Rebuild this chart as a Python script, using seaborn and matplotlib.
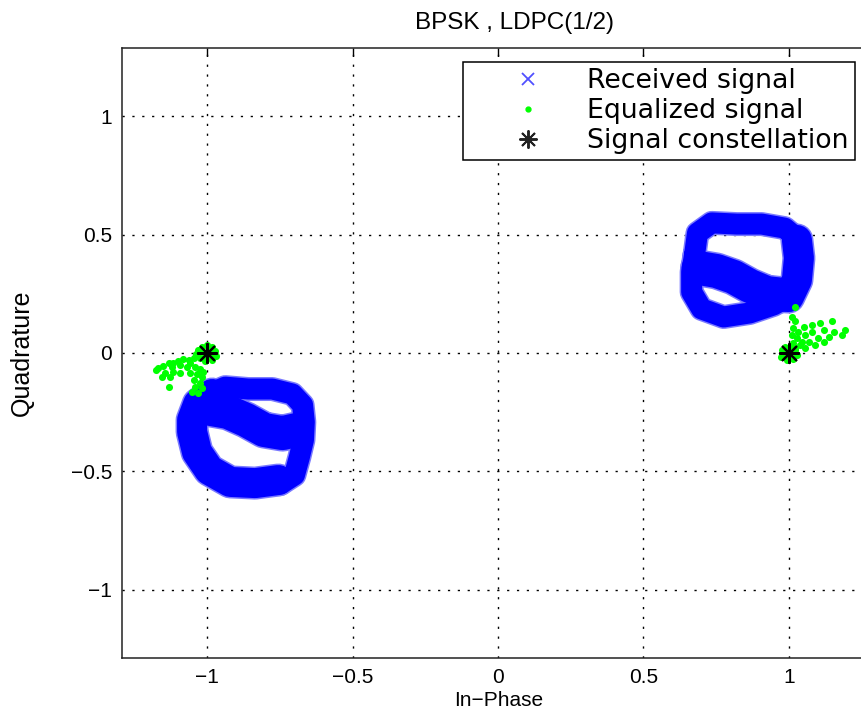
import numpy as np
import pandas as pd
import matplotlib
matplotlib.use("Agg")
import matplotlib.pyplot as plt
from matplotlib.lines import Line2D
import seaborn as sns

# received signal, read off the picture as stroke centre lines of the two ring clouds
# left cloud: ring, thick left/bottom part, band across the middle
left_ring_x = [-1.052, -1.038, -1.000, -0.938, -0.859, -0.776, -0.707, -0.672, -0.666,
               -0.669, -0.683, -0.700, -0.748, -0.835, -0.921, -0.990, -1.031]
left_ring_y = [-0.333, -0.241, -0.177, -0.144, -0.152, -0.152, -0.173, -0.219, -0.291,
               -0.367, -0.439, -0.515, -0.553, -0.553, -0.536, -0.494, -0.430]
left_thick_x = [-0.983, -1.031, -1.052, -1.052, -1.035, -0.993, -0.921, -0.835, -0.755]
left_thick_y = [-0.173, -0.215, -0.283, -0.333, -0.418, -0.494, -0.544, -0.549, -0.536]
left_band_x = [-1.007, -0.928, -0.866, -0.804, -0.741, -0.693]
left_band_y = [-0.232, -0.249, -0.283, -0.325, -0.338, -0.325]

# right cloud
right_ring_x = [0.676, 0.686, 0.735, 0.821, 0.907, 0.986, 1.035, 1.045, 1.038,
                1.010, 0.948, 0.866, 0.776, 0.700, 0.666, 0.666]
right_ring_y = [0.414, 0.506, 0.549, 0.544, 0.544, 0.527, 0.477, 0.401, 0.317,
                0.245, 0.203, 0.169, 0.152, 0.186, 0.257, 0.342]
right_thick_x = [1.028, 1.035, 1.028, 1.000]
right_thick_y = [0.477, 0.401, 0.308, 0.236]
right_band_x = [0.690, 0.752, 0.810, 0.866, 0.924, 0.983]
right_band_y = [0.359, 0.346, 0.321, 0.283, 0.253, 0.245]

# equalized signal
eq_left_x = [-1.030, -1.018, -1.001, -0.984, -0.972, -0.969, -0.984, -1.007, -1.026, -1.038,
             -1.013, -0.990, -1.001, -0.995, -1.047, -1.064, -1.082, -1.099, -1.116, -1.133,
             -1.151, -1.168, -1.176, -1.122, -1.093, -1.070, -1.145, -1.116, -1.156, -1.128,
             -1.095, -1.133, -1.059, -1.041, -1.024, -1.036, -1.018, -1.047, -1.026, -1.041,
             -1.018, -1.053, -1.030, -1.013, -1.059]
eq_left_y = [0.013, 0.027, 0.034, 0.027, 0.010, -0.013, -0.030, -0.032, -0.023, -0.004,
             0.006, -0.008, -0.015, 0.013, -0.023, -0.030, -0.027, -0.032, -0.041, -0.044,
             -0.055, -0.065, -0.072, -0.060, -0.051, -0.058, -0.083, -0.079, -0.100, -0.100,
             -0.083, -0.142, -0.044, -0.058, -0.069, -0.089, -0.100, -0.114, -0.125, -0.142,
             -0.149, -0.163, -0.170, -0.079, -0.086]
eq_right_x = [1.022, 1.010, 1.022, 1.016, 1.033, 1.010, 1.028, 1.016, 1.039, 1.022,
              1.056, 1.079, 1.108, 1.120, 1.148, 1.154, 1.194, 1.183, 1.137, 1.102,
              1.068, 1.091, 1.056, 1.120, 1.045, 1.079, 1.051, 0.976, 0.987, 1.005,
              1.022, 1.028, 1.016, 0.993, 0.974, 0.999, 0.982, 1.010]
eq_right_y = [0.196, 0.154, 0.133, 0.104, 0.090, 0.076, 0.062, 0.041, 0.034, 0.020,
              0.076, 0.090, 0.125, 0.097, 0.133, 0.090, 0.097, 0.076, 0.069, 0.062,
              0.048, 0.034, 0.020, 0.048, 0.048, 0.118, 0.111, 0.013, 0.027, 0.027,
              0.013, -0.008, -0.025, -0.029, -0.015, -0.001, -0.001, 0.006]

# ideal constellation
const_x = [-1, 1]
const_y = [0, 0]

ticks = [-1, -0.5, 0, 0.5, 1]
tick_labels = ["\u22121", "\u22120.5", "0", "0.5", "1"]


def path_df(xs, ys, name, close=False):
    if close:
        xs, ys = xs + xs[:1], ys + ys[:1]
    return pd.DataFrame({"x": xs, "y": ys, "path": name})


rings = pd.concat([path_df(left_ring_x, left_ring_y, "L", True),
                   path_df(right_ring_x, right_ring_y, "R", True)])
thick = pd.concat([path_df(left_thick_x, left_thick_y, "Lt"),
                   path_df(right_thick_x, right_thick_y, "Rt")])
bands = pd.concat([path_df(left_band_x, left_band_y, "Lb"),
                   path_df(right_band_x, right_band_y, "Rb")])
eq = pd.DataFrame({"x": eq_left_x + eq_right_x, "y": eq_left_y + eq_right_y})
const = pd.DataFrame({"x": const_x, "y": const_y})

sns.set_theme(style="white")
plt.rcParams["font.family"] = ["Liberation Sans", "DejaVu Sans"]
plt.rcParams["axes.edgecolor"] = "#222222"
plt.rcParams["text.color"] = "black"
plt.rcParams["axes.labelcolor"] = "black"

fig = plt.figure(figsize=(8.62, 7.22), dpi=100)
ax = fig.add_axes([122 / 862, 64 / 722, 754 / 862, 610 / 722])

px = 72 / 100  # points per pixel
line_kw = dict(sort=False, estimator=None, legend=False, ax=ax,
               solid_capstyle="round", solid_joinstyle="round")
strokes = [(rings, 21), (thick, 30), (bands, 34)]
for data, w in strokes:
    sns.lineplot(data=data, x="x", y="y", units="path", color="#7a7aff",
                 linewidth=(w + 3) * px, **line_kw)
for data, w in strokes:
    sns.lineplot(data=data, x="x", y="y", units="path", color="#0000ff",
                 linewidth=w * px, **line_kw)

sns.scatterplot(data=eq, x="x", y="y", color="#00ff00", s=26, linewidth=0,
                ax=ax, zorder=4)
sns.scatterplot(data=const, x="x", y="y", color="black", marker=(8, 2, 0), s=190,
                linewidth=1.6, ax=ax, zorder=5)

ax.set_xlim(-1.293, 1.3)
ax.set_ylim(-1.287, 1.287)
ax.set_xticks(ticks)
ax.set_xticklabels(tick_labels)
ax.set_yticks(ticks)
ax.set_yticklabels(tick_labels)
ax.tick_params(direction="in", length=6, width=1, top=True, right=True,
               labelsize=15, colors="black", pad=7)
ax.grid(True, color="black", linestyle=(0, (1.6, 5.5)), linewidth=1.0)
ax.set_axisbelow(True)
for sp in ax.spines.values():
    sp.set_linewidth(1.1)

ax.set_title("BPSK , LDPC(1/2)", fontsize=17.5, pad=14, x=(515 - 122) / 754)
ax.set_xlabel("In\u2212Phase", fontsize=15, labelpad=3)
ax.set_ylabel("Quadrature", fontsize=18)
ax.yaxis.set_label_coords(-0.117, 0.5)

handles = [
    Line2D([], [], linestyle="none", marker="x", color="#5050ff", markersize=8, mew=1.3),
    Line2D([], [], linestyle="none", marker=".", color="#00ff00", markersize=7),
    Line2D([], [], linestyle="none", marker=(8, 2, 0), color="#222222", markersize=13, mew=1.4),
]
labels = ["Received signal", "Equalized signal", "Signal constellation"]
leg = ax.legend(handles, labels, loc="upper right",
                bbox_to_anchor=(855 / 862, 1 - 62 / 722), bbox_transform=fig.transFigure,
                borderaxespad=0, handlelength=4.4, handletextpad=0.0,
                labelspacing=0.15, borderpad=0.23, fancybox=False, framealpha=1,
                edgecolor="black", prop={"family": "DejaVu Sans", "size": 19.3})
leg.get_frame().set_linewidth(1.1)

fig.savefig("out.png", dpi=100)
